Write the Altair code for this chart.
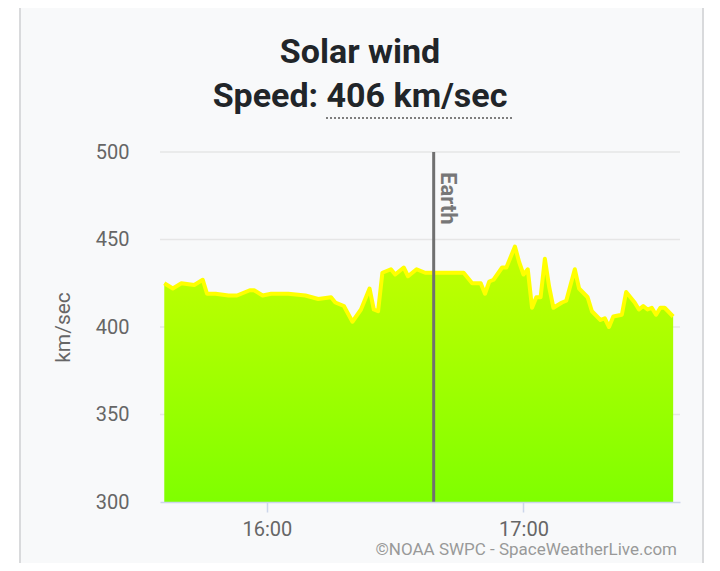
import altair as alt
import pandas as pd

# ---- data ----
times = ["15:36", "15:38", "15:40", "15:43", "15:45", "15:46", "15:48", "15:51", "15:53",
         "15:56", "15:57", "15:59", "16:01", "16:05", "16:09", "16:12", "16:15", "16:16",
         "16:18", "16:20", "16:22", "16:24", "16:25", "16:26", "16:27", "16:29", "16:30",
         "16:32", "16:33", "16:35", "16:37", "16:40", "16:43", "16:46", "16:48", "16:50",
         "16:51", "16:52", "16:53", "16:55", "16:56", "16:58", "16:59", "17:00", "17:01",
         "17:02", "17:03", "17:04", "17:05", "17:06", "17:07", "17:09", "17:10", "17:12",
         "17:13", "17:15", "17:16", "17:18", "17:19", "17:20", "17:21", "17:23", "17:24",
         "17:26", "17:27", "17:28", "17:29", "17:30", "17:31", "17:32", "17:33", "17:35"]
speeds = [425, 422, 425, 424, 427, 419, 419, 418, 418,
          421, 421, 418, 419, 419, 418, 416, 417, 414,
          412, 403, 410, 422, 410, 409, 431, 433, 430,
          434, 429, 433, 431, 431, 431, 431, 425, 425,
          419, 426, 427, 434, 434, 446, 437, 430, 433,
          411, 417, 417, 439, 423, 411, 414, 415, 433,
          422, 417, 409, 404, 405, 400, 406, 407, 420,
          414, 410, 412, 410, 411, 407, 411, 411, 406]
earth_time = ["16:39"]
earth_label = ["Earth"]
grid_values = [350, 400, 450, 500]
y_ticks = [300, 350, 400, 450, 500]
x_ticks = ["16:00", "17:00"]
x_range = ["15:35", "17:36.6"]
title_lines = ["Solar wind", "Speed: 406 km/sec"]
y_title = "km/sec"
credit = ["©NOAA SWPC - SpaceWeatherLive.com"]


def to_min(s):
    h, m = s.split(":")
    return int(h) * 60 + float(m)


df = pd.DataFrame({"t": [to_min(t) for t in times], "speed": speeds})
earth_df = pd.DataFrame({"t": [to_min(t) for t in earth_time], "label": earth_label})
grid_df = pd.DataFrame({"speed": grid_values})
one = pd.DataFrame({"a": [0]})

FONT = "Roboto"
x_scale = alt.Scale(domain=[to_min(x_range[0]), to_min(x_range[1])], nice=False, zero=False)
y_scale = alt.Scale(domain=[300, 500], nice=False, zero=False)

label_expr = ("floor(datum.value/60) + ':' + (datum.value % 60 < 10 ? '0' : '') "
              "+ (datum.value % 60)")

x_enc = alt.X(
    "t:Q", scale=x_scale,
    axis=alt.Axis(values=[to_min(t) for t in x_ticks], labelExpr=label_expr, title=None,
                  grid=False, domainColor="#ccd6eb", domainWidth=1.5, tickColor="#ccd6eb",
                  tickWidth=1.5, tickSize=10, labelFontSize=20, labelColor="#666666",
                  labelPadding=7, labelFont=FONT, zindex=1),
)
y_enc = alt.Y(
    "speed:Q", scale=y_scale,
    axis=alt.Axis(values=y_ticks, grid=False, domain=False, ticks=False, title=y_title,
                  titleFontSize=21, titleColor="#666666", titleFontWeight="normal",
                  titleFont=FONT, labelFontSize=20, labelColor="#666666", labelFont=FONT,
                  labelPadding=31, titlePadding=22, zindex=1),
)

card = alt.Chart(one).mark_rect(fill="#f8f9fa", stroke="#d9dadc", strokeWidth=2).encode(
    x=alt.value(-140), x2=alt.value(543), y=alt.value(-170), y2=alt.value(440)
)

grid = alt.Chart(grid_df).mark_rule(color="#e6e6e6", strokeWidth=1.5).encode(y=y_enc)

gradient = alt.Gradient(
    gradient="linear",
    stops=[alt.GradientStop(color="#7fff00", offset=0),
           alt.GradientStop(color="#c4ff00", offset=1)],
    x1=1, x2=1, y1=1, y2=0,
)
area = alt.Chart(df).mark_area(color=gradient, opacity=1).encode(
    x=x_enc, y=y_enc, y2=alt.datum(300)
)
line = alt.Chart(df).mark_line(color="#ffff00", strokeWidth=4, strokeJoin="round").encode(
    x=x_enc, y=y_enc
)

earth_rule = alt.Chart(earth_df).mark_rule(color="#707070", strokeWidth=3).encode(x=x_enc)
earth_text = alt.Chart(earth_df).mark_text(
    angle=90, align="left", baseline="middle", fontSize=22, fontWeight="bold",
    color="#777777", font=FONT, dy=-14
).encode(x=x_enc, y=alt.value(20), text="label:N")

title1 = alt.Chart(pd.DataFrame({"s": [title_lines[0]]})).mark_text(
    fontSize=34, fontWeight="bold", color="#212529", font=FONT, baseline="middle"
).encode(x=alt.value(200), y=alt.value(-99), text="s:N")
title2 = alt.Chart(pd.DataFrame({"s": [title_lines[1]]})).mark_text(
    fontSize=34, fontWeight="bold", color="#212529", font=FONT, baseline="middle"
).encode(x=alt.value(200), y=alt.value(-55), text="s:N")
underline = alt.Chart(one).mark_rule(color="#555555", strokeWidth=1.5, strokeDash=[2, 2]).encode(
    x=alt.value(166), x2=alt.value(352), y=alt.value(-34)
)

credit_text = alt.Chart(pd.DataFrame({"s": credit})).mark_text(
    fontSize=17, color="#999999", font=FONT, align="right", baseline="middle"
).encode(x=alt.value(517), y=alt.value(398), text="s:N")

chart = alt.layer(
    card, grid, area, line, earth_rule, earth_text, title1, title2, underline, credit_text
).properties(
    width=520, height=350,
    padding={"left": 152, "top": 144, "right": 32, "bottom": 61},
    autosize=alt.AutoSizeParams(type="none"),
).configure(
    background="white", font=FONT
).configure_view(stroke=None)

chart.save("out.html", embed_options={"renderer": "svg", "actions": False})
